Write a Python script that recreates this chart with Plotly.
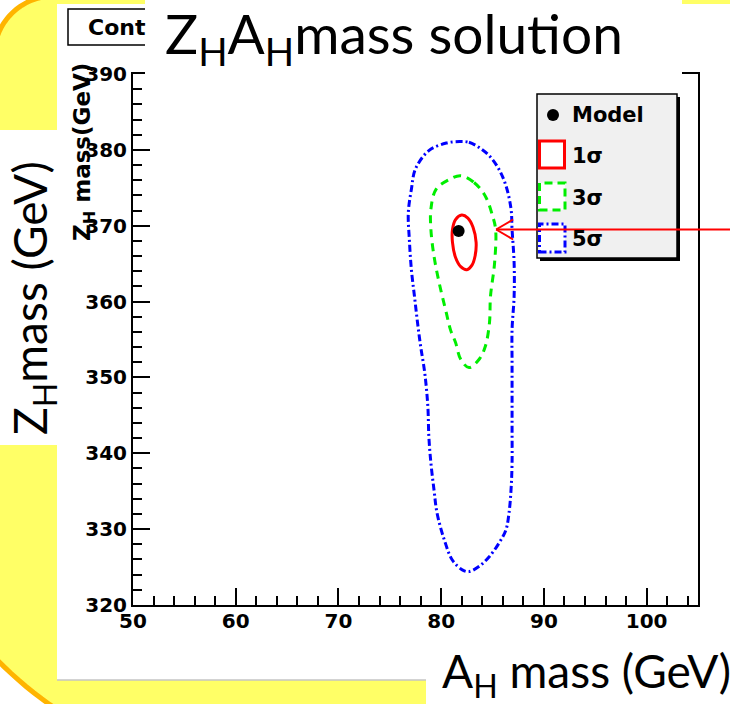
import numpy as np
import plotly.graph_objects as go

# ---------------- data ----------------
model_x = [81.7]
model_y = [369.3]

sig1_x = [82.0, 82.6, 83.1, 83.4, 83.3, 83.0, 82.5, 81.9, 81.4, 81.1, 81.1, 81.4]
sig1_y = [371.4, 371.0, 369.8, 367.8, 366.0, 364.8, 364.2, 364.6, 365.8, 367.8, 369.5, 370.8]

sig3_x = [81.9, 83.2, 84.3, 85.0, 85.3, 85.2, 84.8, 84.7, 84.3, 83.7, 82.7, 81.9, 81.4,
          80.9, 80.5, 79.8, 79.3, 79.0, 79.0, 79.5, 80.8]
sig3_y = [376.6, 375.7, 373.9, 371.3, 369.5, 365.1, 360.7, 357.2, 354.1, 352.4, 351.3, 352.4, 354.6,
          356.3, 358.5, 362.5, 366.0, 369.5, 372.2, 374.8, 376.1]

sig5_x = [81.8, 82.7, 83.7, 84.7, 85.6, 86.3, 86.8, 86.9, 87.1, 87.1, 86.9, 86.9, 86.9, 86.9,
          86.9, 86.8, 86.6, 86.3, 85.6, 84.7, 83.7, 82.7, 82.1, 81.1, 80.3, 79.6, 79.3, 79.0,
          78.8, 78.7, 78.4, 78.0, 77.7, 77.4, 77.1, 76.9, 76.8, 77.1, 77.5, 78.8, 80.5]
sig5_y = [381.1, 381.0, 380.3, 379.2, 377.5, 375.3, 372.2, 369.5, 365.1, 360.7, 356.3, 351.9, 347.5, 343.1,
          338.7, 335.2, 332.1, 329.9, 328.1, 326.4, 325.1, 324.4, 324.6, 325.9, 328.6, 332.1, 335.2, 338.7,
          342.2, 346.2, 350.6, 354.1, 357.2, 360.7, 364.2, 368.2, 371.7, 374.8, 377.5, 379.9, 380.9]

arrow_tip = (85.35, 369.5)

x_range = [50, 105]
y_range = [320, 390]
x_ticks = [50, 60, 70, 80, 90, 100]
y_ticks = [320, 330, 340, 350, 360, 370, 380, 390]

legend_labels = ["Model", "1σ", "3σ", "5σ"]

# ---------------- geometry helpers (pixel -> paper) ----------------
W, H = 730, 704
L, R, T, B = 133, 698, 74, 605


def PX(x):
    return (x - L) / (R - L)


def PY(y):
    return (B - y) / (B - T)


def closed(a):
    return list(a) + [a[0]]


fig = go.Figure()

fig.add_trace(go.Scatter(x=closed(sig5_x), y=closed(sig5_y), mode="lines",
                         line=dict(color="#0000ff", width=3, dash="7px,3px,2px,3px", shape="spline"),
                         hoverinfo="skip", showlegend=False))
fig.add_trace(go.Scatter(x=closed(sig3_x), y=closed(sig3_y), mode="lines",
                         line=dict(color="#00ee00", width=3, dash="8px,6px", shape="spline"),
                         hoverinfo="skip", showlegend=False))
fig.add_trace(go.Scatter(x=closed(sig1_x), y=closed(sig1_y), mode="lines",
                         line=dict(color="#ff0000", width=3, shape="spline"),
                         hoverinfo="skip", showlegend=False))
fig.add_trace(go.Scatter(x=model_x, y=model_y, mode="markers",
                         marker=dict(color="black", size=12, symbol="circle"),
                         showlegend=False))

shapes = []

# yellow rounded slide box with orange border
pts = []
cx, cy, r = 54, 56, 60
for a in np.linspace(np.pi, 1.5 * np.pi, 40):
    pts.append((cx + r * np.cos(a), cy + r * np.sin(a)))
pts += [(900, -4), (900, 900)]
cx, cy, r = 266, 397, 376
for a in np.linspace(0.5 * np.pi, np.pi, 60):
    pts.append((cx + r * np.cos(a), cy + r * np.sin(a)))
pts += [(-300, 397), (-300, 56)]
path = "M " + " L ".join(f"{PX(x):.5f},{PY(y):.5f}" for x, y in pts) + " Z"
shapes.append(dict(type="path", path=path, xref="paper", yref="paper",
                   fillcolor="#ffff66", line=dict(color="#ffb400", width=5), layer="below"))

# white ROOT canvas
shapes.append(dict(type="rect", xref="paper", yref="paper", x0=PX(57), x1=PX(900), y0=PY(680), y1=PY(4),
                   fillcolor="white", line=dict(width=0), layer="below"))
shapes.append(dict(type="line", xref="paper", yref="paper", x0=PX(57), x1=PX(900), y0=PY(680), y1=PY(680),
                   line=dict(color="#c4c4c4", width=1.5), layer="below"))
# ROOT title box "Cont..."
shapes.append(dict(type="rect", xref="paper", yref="paper", x0=PX(68), x1=PX(180), y0=PY(45), y1=PY(9),
                   fillcolor="white", line=dict(color="black", width=1.5), layer="below"))

# legend box + shadow
shapes.append(dict(type="rect", xref="paper", yref="paper", x0=PX(540), x1=PX(680), y0=PY(261), y1=PY(97),
                   fillcolor="black", line=dict(width=0), layer="below"))
shapes.append(dict(type="rect", xref="paper", yref="paper", x0=PX(537), x1=PX(677), y0=PY(258), y1=PY(94),
                   fillcolor="#f0f0f0", line=dict(color="black", width=1.5), layer="below"))
shapes.append(dict(type="circle", xref="paper", yref="paper", x0=PX(547), x1=PX(559), y0=PY(121), y1=PY(109),
                   fillcolor="black", line=dict(width=0), layer="below"))
shapes.append(dict(type="rect", xref="paper", yref="paper", x0=PX(539.5), x1=PX(564.5), y0=PY(168), y1=PY(141),
                   fillcolor="white", line=dict(color="#ff0000", width=3), layer="below"))
shapes.append(dict(type="rect", xref="paper", yref="paper", x0=PX(539.5), x1=PX(565), y0=PY(210), y1=PY(183),
                   fillcolor="white", line=dict(color="#00ee00", width=3, dash="8px,5px"), layer="below"))
shapes.append(dict(type="rect", xref="paper", yref="paper", x0=PX(539.5), x1=PX(565), y0=PY(252), y1=PY(224),
                   fillcolor="white", line=dict(color="#0000ff", width=3, dash="7px,3px,2px,3px"), layer="below"))

# red arrow pointing at the 3-sigma contour (tip converted from data coords)
tipx = (arrow_tip[0] - x_range[0]) / (x_range[1] - x_range[0])
tipy = (arrow_tip[1] - y_range[0]) / (y_range[1] - y_range[0])
dx, dy = 1 / (R - L), 1 / (B - T)
arrow_line = dict(color="#ff0000", width=2)
shapes.append(dict(type="line", xref="paper", yref="paper", x0=tipx, y0=tipy, x1=tipx + 260 * dx, y1=tipy,
                   line=arrow_line, layer="above"))
shapes.append(dict(type="line", xref="paper", yref="paper", x0=tipx, y0=tipy, x1=tipx + 17 * dx, y1=tipy + 10 * dy,
                   line=arrow_line, layer="above"))
shapes.append(dict(type="line", xref="paper", yref="paper", x0=tipx, y0=tipy, x1=tipx + 17 * dx, y1=tipy - 10 * dy,
                   line=arrow_line, layer="above"))

# slide overlay text boxes
shapes.append(dict(type="rect", xref="paper", yref="paper", x0=PX(145), x1=PX(682), y0=PY(75), y1=PY(-10),
                   fillcolor="white", line=dict(width=0), layer="above"))
shapes.append(dict(type="rect", xref="paper", yref="paper", x0=PX(-10), x1=PX(57), y0=PY(445), y1=PY(130),
                   fillcolor="white", line=dict(width=0), layer="above"))
shapes.append(dict(type="rect", xref="paper", yref="paper", x0=PX(426), x1=PX(760), y0=PY(720), y1=PY(645),
                   fillcolor="white", line=dict(width=0), layer="above"))

annotations = []
root_font = dict(family="DejaVu Sans", size=21, color="black", weight="bold")
annotations.append(dict(xref="paper", yref="paper", x=PX(86), y=PY(28), text="Cont", showarrow=False,
                        xanchor="left", yanchor="middle",
                        font=dict(family="DejaVu Sans", size=22, color="black", weight="bold")))
annotations.append(dict(xref="paper", yref="paper", x=PX(84), y=PY(152), text="Z<sub>H</sub> mass(GeV)",
                        textangle=-90, showarrow=False, xanchor="center", yanchor="middle",
                        font=dict(family="DejaVu Sans", size=23, color="black", weight="bold")))
# legend texts
for lab, yy in zip(legend_labels, [115, 156, 198, 239]):
    annotations.append(dict(xref="paper", yref="paper", x=PX(570), y=PY(yy), text=lab, showarrow=False,
                            xanchor="left", yanchor="middle", font=root_font))

slide_font = dict(family="Lato, Noto Sans CJK JP", color="black")
annotations.append(dict(xref="paper", yref="paper", x=PX(163), y=PY(37),
                        text="Z<sub>H</sub>A<sub>H</sub>mass solution", showarrow=False,
                        xanchor="left", yanchor="middle", font=dict(size=55, **slide_font)))
annotations.append(dict(xref="paper", yref="paper", x=PX(33), y=PY(298),
                        text="Z<sub>H</sub>mass (GeV)", showarrow=False, textangle=-90,
                        xanchor="center", yanchor="middle", font=dict(size=46, **slide_font)))
annotations.append(dict(xref="paper", yref="paper", x=PX(586), y=PY(674),
                        text="A<sub>H</sub> mass (GeV)", showarrow=False,
                        xanchor="center", yanchor="middle", font=dict(size=46, **slide_font)))

tickfont = dict(family="DejaVu Sans", size=20, color="black", weight="bold")
fig.update_layout(
    width=W, height=H,
    margin=dict(l=L, r=W - R, t=T, b=H - B, pad=0),
    paper_bgcolor="white", plot_bgcolor="rgba(0,0,0,0)",
    shapes=shapes, annotations=annotations,
    xaxis=dict(range=x_range, tickvals=x_ticks, ticks="inside", ticklen=17, tickwidth=1.5,
               tickcolor="black", showline=True, linecolor="black", linewidth=2, mirror=True,
               showgrid=False, zeroline=False, tickfont=tickfont, ticklabelstandoff=-3,
               minor=dict(dtick=2, ticks="inside", ticklen=9, tickwidth=1.5, tickcolor="black", showgrid=False)),
    yaxis=dict(range=y_range, tickvals=y_ticks, ticks="inside", ticklen=17, tickwidth=1.5,
               tickcolor="black", showline=True, linecolor="black", linewidth=2, mirror=True,
               showgrid=False, zeroline=False, tickfont=tickfont,
               minor=dict(dtick=2, ticks="inside", ticklen=9, tickwidth=1.5, tickcolor="black", showgrid=False)),
    showlegend=False,
)

fig.write_html("out.html", config={"displayModeBar": False},
               post_script="document.body.style.margin='0px';document.body.style.overflow='hidden';")
